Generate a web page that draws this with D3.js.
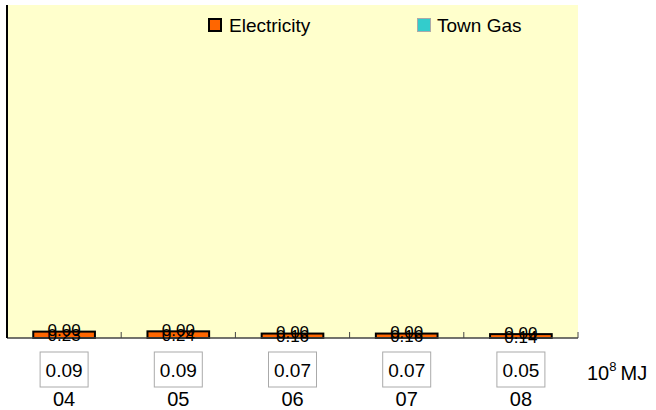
<!DOCTYPE html>
<html>
<head>
<meta charset="utf-8">
<script src="https://cdn.jsdelivr.net/npm/d3@7"></script>
<style>
  body { margin: 0; background: #fff; }
  svg { display: block; font-family: "Liberation Sans", Arial, sans-serif; }
</style>
</head>
<body>
<svg id="chart" width="656" height="410"></svg>
<script>
// data
const years = ["04", "05", "06", "07", "08"];
const electricity = [0.23, 0.24, 0.16, 0.16, 0.14];
const townGas = [0.00, 0.00, 0.00, 0.00, 0.00];
const totals = [0.09, 0.09, 0.07, 0.07, 0.05];
const seriesNames = ["Electricity", "Town Gas"];

const width = 656, height = 410;
const plot = { left: 7, top: 5, right: 578, bottom: 338 };

const svg = d3.select("#chart");

const x = d3.scaleBand()
  .domain(years)
  .range([plot.left, plot.right])
  .paddingInner(0.46)
  .paddingOuter(0.23);

const y = d3.scaleLinear()
  .domain([0, 12])
  .range([plot.bottom, plot.top]);

// plot background
svg.append("rect")
  .attr("x", plot.left)
  .attr("y", plot.top)
  .attr("width", plot.right - plot.left)
  .attr("height", plot.bottom - plot.top)
  .attr("fill", "#ffffcc");

// stacked bars
const rows = years.map((yr, i) => ({ year: yr, Electricity: electricity[i], "Town Gas": townGas[i] }));
const stack = d3.stack().keys(seriesNames)(rows);
const colors = { "Electricity": "#ff6600", "Town Gas": "#33cccc" };
const strokes = { "Electricity": "#000", "Town Gas": "#888" };

const layer = svg.selectAll("g.layer")
  .data(stack)
  .join("g")
  .attr("class", "layer");

layer.selectAll("rect")
  .data(s => s.map(d => ({ key: s.key, d })))
  .join("rect")
  .filter(o => o.d[1] - o.d[0] > 0)
  .attr("x", o => x(o.d.data.year))
  .attr("y", o => y(o.d[1]))
  .attr("width", x.bandwidth())
  .attr("height", o => y(o.d[0]) - y(o.d[1]))
  .attr("fill", o => colors[o.key])
  .attr("stroke", o => strokes[o.key])
  .attr("stroke-width", 2);

// axes
const xAxis = svg.append("g");
xAxis.append("line")
  .attr("x1", plot.left).attr("x2", plot.right)
  .attr("y1", plot.bottom).attr("y2", plot.bottom)
  .attr("stroke", "#444").attr("stroke-width", 1.5);

const gap = (x.step() - x.bandwidth()) / 2;
const bounds = years.map(d => x(d) - gap).concat([x(years[years.length - 1]) + x.bandwidth() + gap]);
xAxis.selectAll("line.tick")
  .data(bounds.slice(1))
  .join("line")
  .attr("class", "tick")
  .attr("x1", d => d).attr("x2", d => d)
  .attr("y1", plot.bottom).attr("y2", plot.bottom - 6)
  .attr("stroke", "#444").attr("stroke-width", 1);

svg.append("line")
  .attr("x1", plot.left).attr("x2", plot.left)
  .attr("y1", plot.top).attr("y2", plot.bottom)
  .attr("stroke", "#000").attr("stroke-width", 2);

// value labels on bars (they overlap in the original too)
stack.forEach(s => {
  svg.append("g").selectAll("text")
    .data(s)
    .join("text")
    .attr("x", d => x(d.data.year) + x.bandwidth() / 2)
    .attr("y", d => (y(d[0]) + y(d[1])) / 2 + (s.key === "Town Gas" ? -1 : 1))
    .attr("text-anchor", "middle")
    .attr("dominant-baseline", "central")
    .attr("font-size", 17)
    .attr("fill", "#000")
    .text(d => d3.format(".2f")(d[1] - d[0]));
});

// total boxes
const boxW = 48, boxH = 35, boxTop = 352;
const boxes = svg.append("g").selectAll("g")
  .data(years.map((yr, i) => ({ year: yr, total: totals[i] })))
  .join("g")
  .attr("transform", d => `translate(${x(d.year) + x.bandwidth() / 2},${boxTop})`);
boxes.append("rect")
  .attr("x", -boxW / 2).attr("y", 0)
  .attr("width", boxW).attr("height", boxH)
  .attr("fill", "#fff")
  .attr("stroke", "#aaa").attr("stroke-width", 1);
boxes.append("text")
  .attr("x", 0).attr("y", boxH / 2 + 7)
  .attr("text-anchor", "middle")
  .attr("font-size", 19)
  .text(d => d3.format(".2f")(d.total));

// category labels
svg.append("g").selectAll("text")
  .data(years)
  .join("text")
  .attr("x", d => x(d) + x.bandwidth() / 2)
  .attr("y", 406)
  .attr("text-anchor", "middle")
  .attr("font-size", 20)
  .text(d => d);

// unit
const unit = svg.append("text")
  .attr("x", 587).attr("y", 380)
  .attr("font-size", 20);
unit.append("tspan").text("10");
unit.append("tspan").attr("dy", -9).attr("font-size", 13).text("8");
unit.append("tspan").attr("dy", 9).attr("dx", 4).text("MJ");

// legend
const legendX = [208, 417];
const legend = svg.append("g").selectAll("g")
  .data(seriesNames)
  .join("g")
  .attr("transform", (d, i) => `translate(${legendX[i]},18)`);
legend.append("rect")
  .attr("x", d => d === "Electricity" ? 1 : 0.5)
  .attr("y", d => d === "Electricity" ? 1 : 0.5)
  .attr("width", d => d === "Electricity" ? 12 : 13)
  .attr("height", d => d === "Electricity" ? 12 : 13)
  .attr("fill", d => colors[d])
  .attr("stroke", d => d === "Electricity" ? "#000" : "#aaa")
  .attr("stroke-width", d => d === "Electricity" ? 2 : 1);
legend.append("text")
  .attr("x", d => d === "Electricity" ? 21 : 20)
  .attr("y", 14)
  .attr("font-size", 19)
  .text(d => d);
</script>
</body>
</html>
